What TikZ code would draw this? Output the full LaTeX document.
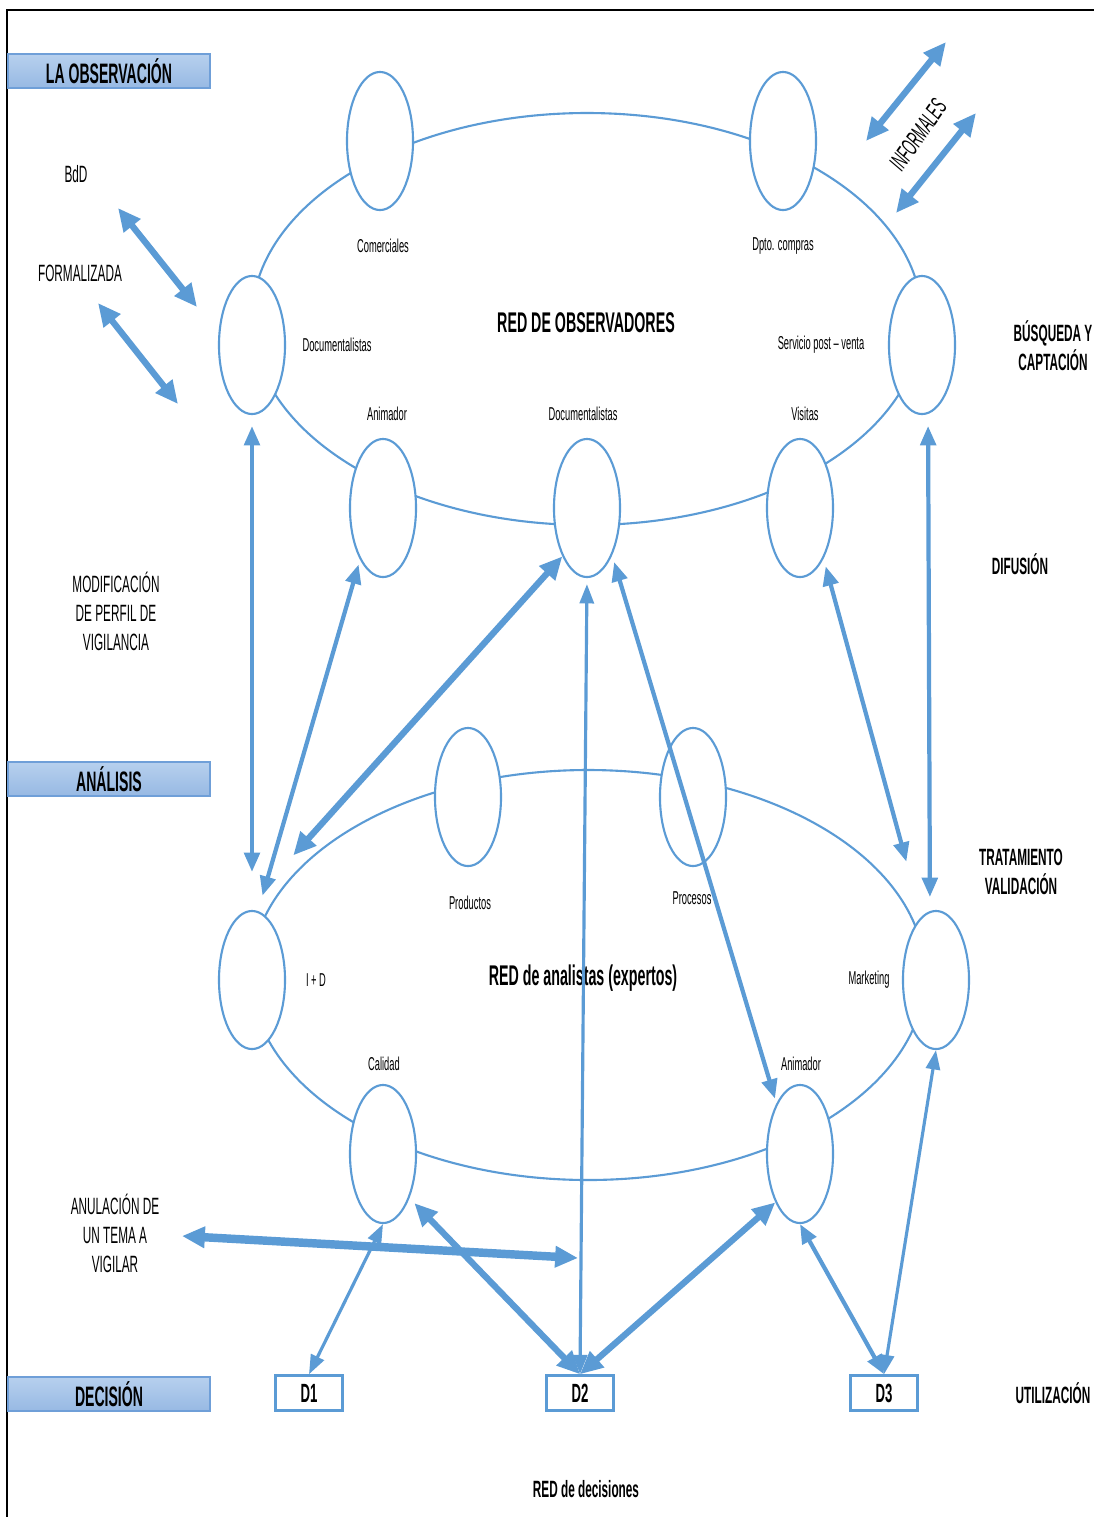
\documentclass[tikz,border=0pt]{standalone}
\usepackage{fontspec}
\setmainfont{Liberation Sans}[FakeStretch=0.5]
\usetikzlibrary{shapes.geometric,arrows.meta}

\definecolor{redazul}{HTML}{5B9BD5}
\definecolor{etapaarriba}{HTML}{B7D0EE}
\definecolor{etapaabajo}{HTML}{97B9E3}
\definecolor{etapaborde}{HTML}{6F9FD8}

\tikzset{
  miembro/.style={ellipse, draw=redazul, fill=white, line width=0.6pt,
    minimum width=0.66cm, minimum height=1.38cm, inner sep=0pt},
  malla/.style={draw=redazul, line width=0.6pt},
  rotulo/.style={font=\fontsize{5.3}{6.2}\selectfont, inner sep=1pt},
  titulo/.style={font=\bfseries\fontsize{8.1}{9.5}\selectfont, inner sep=1pt},
  nota/.style={font=\fontsize{6.7}{8.25}\selectfont, align=center, inner sep=1pt},
  fase/.style={font=\bfseries\fontsize{6.7}{8.25}\selectfont, align=center, inner sep=1pt},
  etapa/.style={rectangle, draw=etapaborde, line width=0.5pt, top color=etapaarriba,
    bottom color=etapaabajo, minimum width=2.02cm, minimum height=0.34cm, inner sep=0pt,
    font=\bfseries\fontsize{8}{9.5}\selectfont},
  decision/.style={rectangle, draw=redazul, fill=white, line width=0.7pt,
    minimum width=0.67cm, minimum height=0.35cm, inner sep=0pt,
    font=\bfseries\fontsize{7.5}{9}\selectfont},
  flujo/.style={draw=redazul, line width=1.2pt, >={Triangle[length=5.5pt,width=4.4pt]}, <->},
  flujo fino/.style={draw=redazul, line width=0.9pt, >={Triangle[length=5.5pt,width=4pt]}, <->},
  flujo grueso/.style={draw=redazul, line width=1.8pt, >={Triangle[length=6.5pt,width=5.8pt]}, <->},
}

\begin{document}
\begin{tikzpicture}[x=0.01cm, y=-0.01cm]
  \useasboundingbox (0,0) rectangle (1094,1517);
  % marco
  \draw[line width=0.6pt] (7,1517) -- (7,10) -- (1094,10);

  % etapas
  \node[etapa] (obs) at (109,71) {LA OBSERVACIÓN};
  \node[etapa] (ana) at (109,779) {ANÁLISIS};
  \node[etapa] (dec) at (109,1394) {DECISIÓN};

  % red de observadores
  \draw[malla] (587,319) ellipse (335 and 206);
  \node[miembro] (oCom) at (380,141) {};
  \node[miembro] (oDpto) at (783,141) {};
  \node[miembro] (oDocL) at (252,345) {};
  \node[miembro] (oServ) at (922,345) {};
  \node[miembro] (oAnim) at (383,508) {};
  \node[miembro] (oDocM) at (587,508) {};
  \node[miembro] (oVis) at (800,508) {};
  \node[rotulo] (tCom) at (383,246) {Comerciales};
  \node[rotulo] (tDpto) at (783,246) {Dpto. compras};
  \node[rotulo] (tDocL) at (337,345) {Documentalistas};
  \node[rotulo] (tServ) at (821,345) {Servicio post – venta};
  \node[rotulo] (tAnim) at (387,414) {Animador};
  \node[rotulo] (tDocM) at (583,414) {Documentalistas};
  \node[rotulo] (tVis) at (805,414) {Visitas};
  \node[titulo] (tObs) at (586,323) {RED DE OBSERVADORES};

  % red de analistas
  \draw[malla] (588,975) ellipse (337 and 205);
  \node[miembro] (aProd) at (468,797) {};
  \node[miembro] (aProc) at (693,797) {};
  \node[miembro] (aID) at (252,980) {};
  \node[miembro] (aMkt) at (936,980) {};
  \node[miembro] (aCal) at (383,1154) {};
  \node[miembro] (aAnim) at (800,1154) {};
  \node[rotulo] (tProd) at (470,903) {Productos};
  \node[rotulo] (tProc) at (692,898) {Procesos};
  \node[rotulo] (tID) at (316,980) {I + D};
  \node[rotulo] (tMkt) at (869,980) {Marketing};
  \node[rotulo] (tCal) at (384,1064) {Calidad};
  \node[rotulo] (tAnimB) at (801,1064) {Animador};
  \node[titulo] (tAna) at (583,978) {RED de analistas (expertos)};

  % decisiones
  \node[decision] (d1) at (309,1393) {D1};
  \node[decision] (d2) at (580,1393) {D2};
  \node[decision] (d3) at (884,1393) {D3};
  \node[fase] (tDec) at (586,1489) {RED de decisiones};

  % textos laterales
  \node[nota] (bdd) at (76,174) {BdD};
  \node[nota] (formal) at (80,273) {FORMALIZADA};
  \node[nota] (modif) at (116,611) {MODIFICACIÓN\\DE PERFIL DE\\VIGILANCIA};
  \node[nota] (anul) at (115,1233) {ANULACIÓN DE\\UN TEMA A\\VIGILAR};
  \node[nota, font=\itshape\fontsize{7}{8}\selectfont, rotate=55] (inform) at (918,135) {INFORMALES};
  \node[fase] (busq) at (1053,346) {BÚSQUEDA Y\\CAPTACIÓN};
  \node[fase] (difus) at (1020,564) {DIFUSIÓN};
  \node[fase] (trat) at (1021,872) {TRATAMIENTO\\VALIDACIÓN};
  \node[fase] (util) at (1053,1393) {UTILIZACIÓN};

  % extremos libres
  \coordinate (bdA) at (118,208);
  \coordinate (bdB) at (197,307);
  \coordinate (foA) at (98,303);
  \coordinate (foB) at (178,404);
  \coordinate (inA) at (866,141);
  \coordinate (inB) at (946,42);
  \coordinate (inC) at (896,213);
  \coordinate (inD) at (976,113);
  \coordinate (anA) at (182,1236);
  \coordinate (anB) at (578,1258);

  % flujos
  \draw[flujo grueso] (bdA) -- (bdB);
  \draw[flujo grueso] (foA) -- (foB);
  \draw[flujo grueso] (inA) -- (inB);
  \draw[flujo grueso] (inC) -- (inD);
  \draw[flujo, shorten <=0.11cm, shorten >=0.38cm] (oDocL.south) -- (aID.north);
  \draw[flujo, shorten <=0.05cm, shorten >=0.16cm] (oAnim.-114) -- (aID.85);
  \draw[flujo grueso, shorten >=0.79cm] (oDocM.-117) -- (aID.100);
  \draw[flujo fino, shorten <=0.06cm] (oDocM.south) -- (d2.north);
  \draw[flujo, shorten <=0.07cm, shorten >=0.05cm] (oDocM.-62) -- (aAnim.115);
  \draw[flujo, shorten <=0.08cm, shorten >=0.57cm] (oVis.-65) -- (aMkt.103);
  \draw[flujo, shorten <=0.12cm, shorten >=0.14cm] (oServ.-85) -- (aMkt.95);
  \draw[flujo fino] (aMkt.south) -- (d3.north);
  \draw[flujo] (aAnim.south) -- (d3.north);
  \draw[flujo grueso] (aAnim.-117) -- (d2.north);
  \draw[flujo grueso, shorten <=0.07cm] (aCal.-59) -- (d2.north);
  \draw[flujo fino] (aCal.south) -- (d1.north);
  \draw[flujo grueso, line width=2.4pt] (anA) -- (anB);
\end{tikzpicture}
\end{document}
